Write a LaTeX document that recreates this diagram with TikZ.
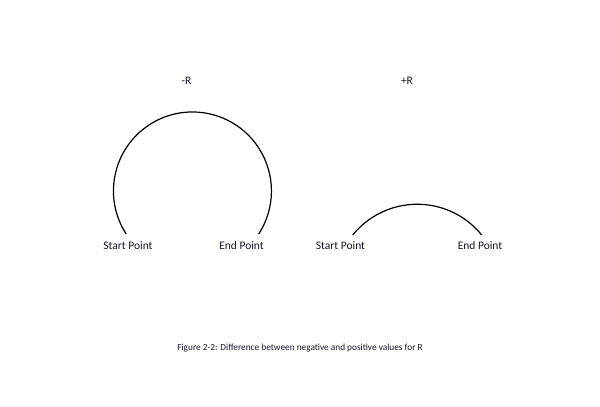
\documentclass[tikz,border=0pt]{standalone}
\usepackage{fontspec}
\setmainfont{Carlito}
\definecolor{txt}{RGB}{22,22,40}
\begin{document}
\begin{tikzpicture}[x=1pt,y=-1pt,
  lbl/.style={font=\fontsize{11.5}{13}\selectfont, text=txt, inner sep=0pt},
  captext/.style={font=\fontsize{9.3}{11}\selectfont, text=txt, inner sep=0pt},
  arcline/.style={line width=1.2pt, black}]
\useasboundingbox (0,0) rectangle (600,407);
% labels
\node[lbl] (negR) at (186.5,81) {-R};
\node[lbl] (posR) at (407,81) {+R};
\node[lbl] (s1) at (128,245.5) {Start Point};
\node[lbl] (e1) at (241.5,245.5) {End Point};
\node[lbl] (s2) at (340.5,246) {Start Point};
\node[lbl] (e2) at (480,246) {End Point};
\node[captext] (caption) at (300,348) {Figure 2-2: Difference between negative and positive values for R};
% arc end points
\coordinate (a1) at (126.2,234);
\coordinate (b1) at (258.8,234);
\coordinate (a2) at (352.7,235);
\coordinate (b2) at (481.7,235);
% arcs (y axis is flipped, so angles are mirrored)
\draw[arcline] (a1) arc[start angle=-213, end angle=33, radius=79];
\draw[arcline] (a2) arc[start angle=-141, end angle=-39, radius=83];
\end{tikzpicture}
\end{document}
